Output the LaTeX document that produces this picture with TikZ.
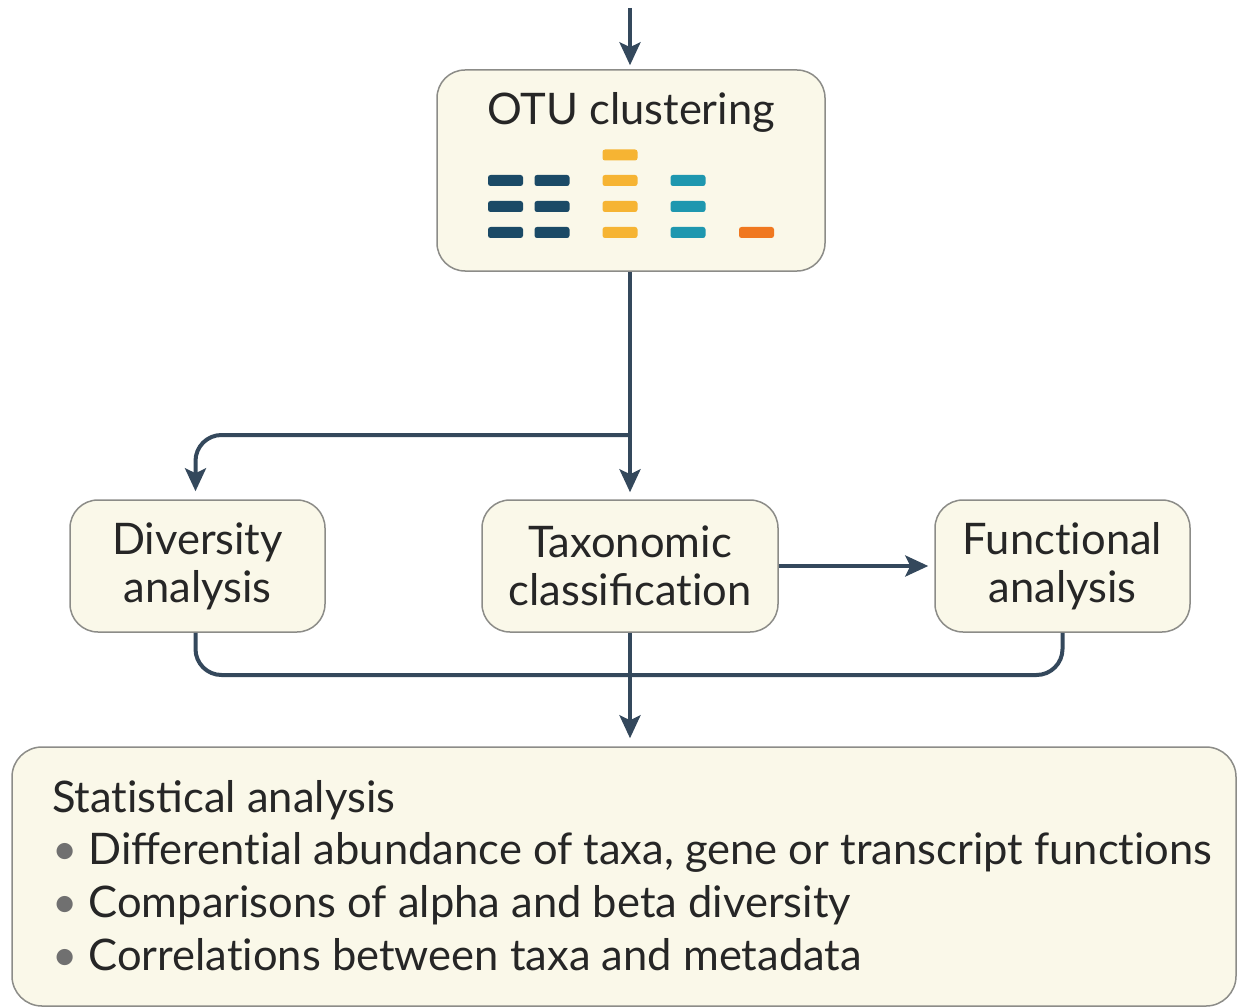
\documentclass[tikz,border=0pt]{standalone}
\usepackage{fontspec}
\setmainfont{Lato}
\usetikzlibrary{arrows.meta}
\definecolor{linec}{HTML}{34485C}
\definecolor{boxfill}{HTML}{FAF8E9}
\definecolor{boxdraw}{HTML}{8C8C88}
\definecolor{txt}{HTML}{262626}
\definecolor{bulc}{HTML}{707070}
\definecolor{cdark}{HTML}{1B4A66}
\definecolor{cyel}{HTML}{F6B433}
\definecolor{cteal}{HTML}{1E97AF}
\definecolor{corange}{HTML}{F07820}
\newcommand{\tI}{t\kern0pt i}
\tikzset{
  box/.style={draw=boxdraw, line width=1.5pt, fill=boxfill, rounded corners=28pt, inner sep=0pt},
  boxtext/.style={text=txt, font=\fontsize{43.5}{48}\selectfont, align=center},
  conn/.style={draw=linec, line width=4pt},
  arr/.style={conn, -{Stealth[length=23pt,width=21pt,inset=5pt]}},
  bar/.style={rounded corners=2.5pt, draw=none},
}
\newcommand{\otubar}[3]{\fill[bar,#1] (#2,#3-5.5) rectangle ++(35,11);}
\begin{document}
\begin{tikzpicture}[x=1pt,y=-1pt]
\useasboundingbox (0,0) rectangle (1238,1008);
% boxes
\node[box, minimum width=388pt, minimum height=201pt] (otu) at (631,170.5) {};
\node[boxtext] (otutext) at (631,112) {OTU clustering};
\node[box, minimum width=255pt, minimum height=132pt, boxtext] (div) at (197.5,566) {Diversity\\analysis};
\node[box, minimum width=296pt, minimum height=132pt, boxtext] (tax) at (630,566) {Taxonomic\\classifica\tI on};
\node[box, minimum width=255pt, minimum height=132pt, boxtext] (fun) at (1062.5,566) {Func\tI onal\\analysis};
\node[box, minimum width=1224pt, minimum height=259pt, rounded corners=30pt] (stat) at (624,876.5) {};
\node[anchor=north west, text=txt, align=left, font=\fontsize{43.5}{52.7}\selectfont, inner sep=0pt] (stattext) at (52,780)
 {Sta\tI stical analysis\\
  {\color{bulc}•} Differen\tI al abundance of taxa, gene or transcript func\tI ons\\
  {\color{bulc}•} Comparisons of alpha and beta diversity\\
  {\color{bulc}•} Correla\tI ons between taxa and metadata};
% bars
\foreach \y in {180.5,206.5,232.5}{\otubar{cdark}{488}{\y}\otubar{cdark}{534.5}{\y}\otubar{cteal}{670.5}{\y}}
\foreach \y in {155,180.5,206.5,232.5}{\otubar{cyel}{602.5}{\y}}
\otubar{corange}{739}{232.5}
% connectors
\coordinate (topin) at (630,8);
\coordinate (j1) at (630,435);
\coordinate (jb) at (630,675);
\draw[arr, shorten >=4pt] (topin) -- (otu.north -| topin);
\draw[arr, shorten >=7pt] (otu.south -| j1) -- (tax.north);
\draw[arr, rounded corners=26pt, shorten >=8pt] (j1) -| ([xshift=-2pt]div.north);
\draw[conn, rounded corners=26pt] ([xshift=-2pt]div.south) |- (jb) -| (fun.south);
\draw[arr, shorten >=8pt] (tax.south) -- (stat.north -| tax.south);
\draw[arr, shorten >=6pt] (tax.east) -- (fun.west);
\end{tikzpicture}
\end{document}
